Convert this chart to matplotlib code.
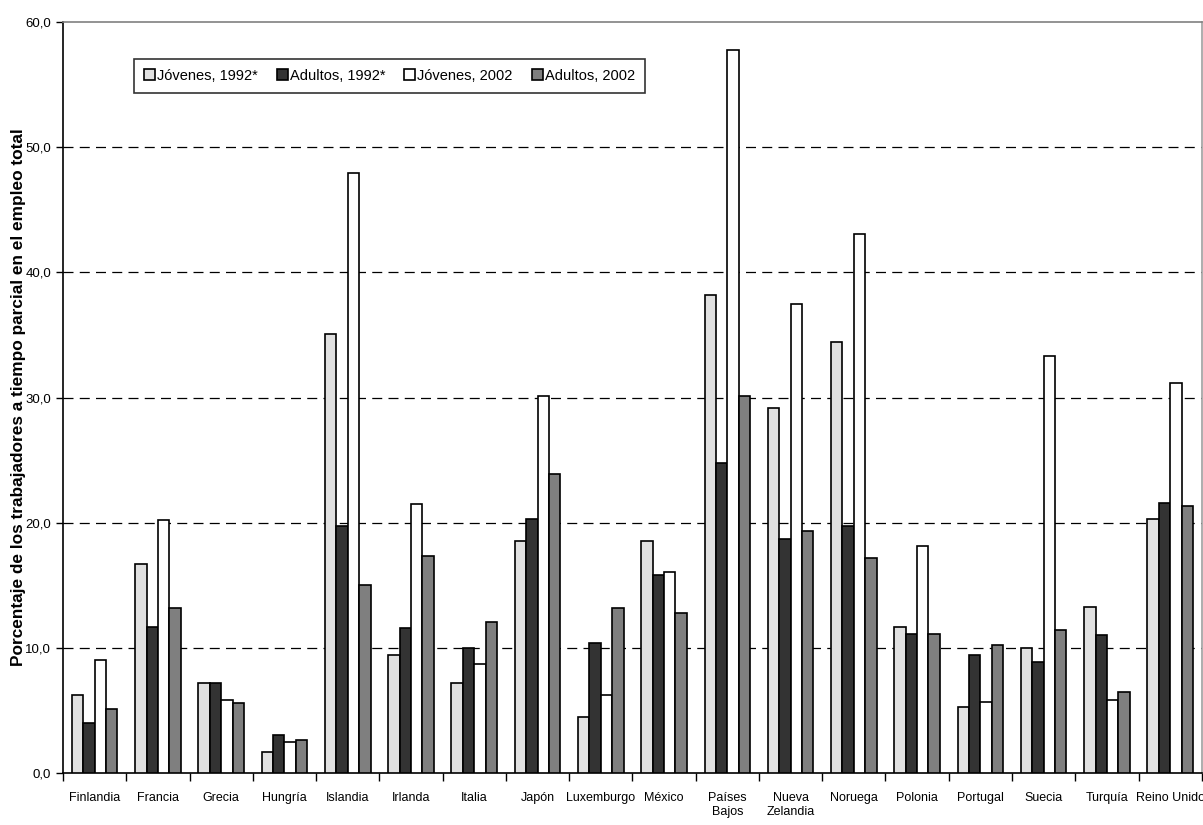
import matplotlib.pyplot as plt
import numpy as np
from matplotlib.ticker import FuncFormatter, FixedLocator

# datos
paises = ['Finlandia', 'Francia', 'Grecia', 'Hungría', 'Islandia', 'Irlanda', 'Italia',
          'Japón', 'Luxemburgo', 'México', 'Países\nBajos', 'Nueva\nZelandia', 'Noruega',
          'Polonia', 'Portugal', 'Suecia', 'Turquía', 'Reino Unido']
jovenes_1992 = [6.2, 16.7, 7.2, 1.7, 35.1, 9.4, 7.2, 18.5, 4.5, 18.5, 38.2, 29.2, 34.4, 11.7, 5.3, 10.0, 13.3, 20.3]
adultos_1992 = [4.0, 11.7, 7.2, 3.0, 19.7, 11.6, 10.0, 20.3, 10.4, 15.8, 24.8, 18.7, 19.7, 11.1, 9.4, 8.9, 11.0, 21.6]
jovenes_2002 = [9.0, 20.2, 5.8, 2.5, 47.9, 21.5, 8.7, 30.1, 6.2, 16.1, 57.8, 37.5, 43.1, 18.1, 5.7, 33.3, 5.8, 31.2]
adultos_2002 = [5.1, 13.2, 5.6, 2.6, 15.0, 17.3, 12.1, 23.9, 13.2, 12.8, 30.1, 19.3, 17.2, 11.1, 10.2, 11.4, 6.5, 21.3]

series = [('Jóvenes, 1992*', jovenes_1992, '#e0e0e0'),
          ('Adultos, 1992*', adultos_1992, '#333333'),
          ('Jóvenes, 2002', jovenes_2002, '#ffffff'),
          ('Adultos, 2002', adultos_2002, '#7f7f7f')]

plt.rcParams['font.family'] = ['Liberation Sans', 'DejaVu Sans']

fig = plt.figure(figsize=(12.03, 8.25), dpi=100)
ax = fig.add_axes([0.0524, 0.063, 0.9466, 0.9103])

x = np.arange(len(paises))
w = 0.18
for i, (nombre, vals, color) in enumerate(series):
    ax.bar(x + (i - 1.5) * w, vals, w, color=color, edgecolor='black',
           linewidth=1.2, label=nombre, zorder=3)

ax.set_xlim(-0.5, len(paises) - 0.5)
ax.set_ylim(0, 60)
ax.set_yticks(np.arange(0, 61, 10))
ax.yaxis.set_major_formatter(FuncFormatter(lambda v, p: '{:.1f}'.format(v).replace('.', ',')))
for yv in range(10, 60, 10):
    ax.axhline(yv, color='black', linestyle=(0, (8, 5)), linewidth=0.9, zorder=1)

ax.xaxis.set_major_locator(FixedLocator(np.arange(-0.5, len(paises), 1)))
ax.xaxis.set_minor_locator(FixedLocator(x))
ax.set_xticklabels([], minor=False)
ax.set_xticklabels(paises, minor=True)
ax.tick_params(axis='x', which='major', length=6, direction='out', width=1)
ax.tick_params(axis='x', which='minor', length=0, pad=14, labelsize=9)
ax.tick_params(axis='y', length=5, direction='out', width=1, labelsize=9.5)
for t in ax.get_xticklabels(minor=True):
    t.set_verticalalignment('top')

ax.spines['left'].set_color('black')
ax.spines['bottom'].set_color('black')
ax.spines['top'].set_color('#808080')
ax.spines['right'].set_color('#a0a0a0')
for s in ax.spines.values():
    s.set_linewidth(1.2)

ax.set_ylabel('Porcentaje de los trabajadores a tiempo parcial en el empleo total',
              fontsize=12.4, fontweight='bold')
ax.yaxis.set_label_coords(-0.0325, 0.5)

leg = ax.legend(loc='upper left', bbox_to_anchor=(0.0555, 0.961), ncol=4,
                fontsize=10.5, frameon=True, fancybox=False, handlelength=0.75,
                handleheight=0.75, handletextpad=0.15, columnspacing=1.3,
                borderpad=0.7, edgecolor='black')
leg.get_frame().set_linewidth(1.2)

fig.savefig('out.png', dpi=100)
